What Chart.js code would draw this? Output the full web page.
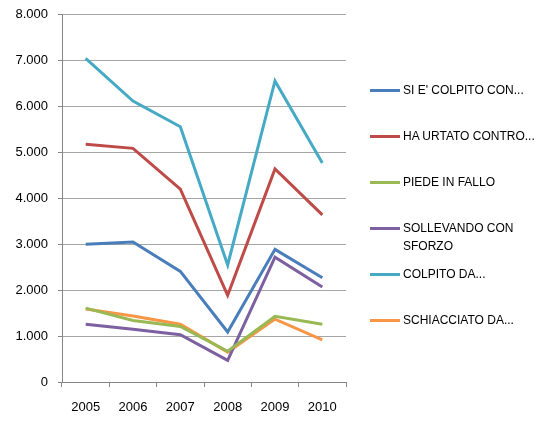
<!DOCTYPE html>
<html><head><meta charset="utf-8">
<script src="https://cdn.jsdelivr.net/npm/chart.js@4"></script>
<style>
html,body{margin:0;padding:0;background:#fff;overflow:hidden;}
#wrap{position:relative;width:558px;height:425px;overflow:hidden;}
#c{position:absolute;left:0;top:-3px;}
#legend{position:absolute;left:370px;top:0;font-family:"Liberation Sans",Arial,sans-serif;font-size:12px;color:#000;}
.item{position:absolute;left:0;width:190px;}
.sw{position:absolute;left:0;width:30px;height:3px;}
.tx{position:absolute;left:33px;line-height:18px;white-space:nowrap;}
</style>
</head><body>
<div id="wrap"><canvas id="c" width="558" height="429"></canvas><div id="legend"></div></div>
<script>
const categories = ['2005','2006','2007','2008','2009','2010'];
const seriesNames = ["SI E' COLPITO CON...", "HA URTATO CONTRO...", "PIEDE IN FALLO", "SOLLEVANDO CON\nSFORZO", "COLPITO DA...", "SCHIACCIATO DA..."];
const siColpito   = [3000, 3050, 2410, 1090, 2890, 2270];
const haUrtato    = [5180, 5090, 4200, 1890, 4640, 3640];
const piedeFallo  = [1610, 1340, 1210, 670, 1430, 1260];
const sollevando  = [1260, 1150, 1030, 470, 2720, 2070];
const colpitoDa   = [7050, 6120, 5560, 2550, 6560, 4770];
const schiacciato = [1590, 1440, 1260, 650, 1370, 920];
const seriesColors = ['#4A7EBB', '#BE4B48', '#98B954', '#7D60A0', '#46AAC5', '#F79646'];
const yTicks = [0, 1000, 2000, 3000, 4000, 5000, 6000, 7000, 8000];

const allSeries = [siColpito, haUrtato, piedeFallo, sollevando, colpitoDa, schiacciato];
const font = {family: '"Liberation Sans", Arial, sans-serif', size: 13};

new Chart(document.getElementById('c'), {
  type: 'line',
  data: {
    labels: categories,
    datasets: allSeries.map((d, i) => ({
      label: seriesNames[i].replace('\n', ' '),
      data: d,
      borderColor: seriesColors[i],
      backgroundColor: seriesColors[i],
      borderWidth: 3,
      pointRadius: 0,
      tension: 0,
      fill: false
    }))
  },
  options: {
    responsive: false,
    animation: false,
    layout: {padding: {top: 11, right: 212, left: 0, bottom: 0}},
    plugins: {legend: {display: false}, tooltip: {enabled: false}},
    scales: {
      x: {
        offset: true,
        grid: {offset: true, drawOnChartArea: false, tickLength: 5, color: '#868686', tickColor: '#868686'},
        border: {color: '#868686', width: 1},
        ticks: {color: '#000', font: font, padding: 13, maxRotation: 0},
        afterFit: s => { s.height = 44; }
      },
      y: {
        min: 0, max: 8000,
        afterBuildTicks: s => { s.ticks = yTicks.map(v => ({value: v})); },
        grid: {color: '#A6A6A6', tickLength: 4, tickColor: '#868686', lineWidth: 1},
        border: {color: '#868686', width: 1},
        ticks: {color: '#000', font: font, padding: 10,
          callback: v => v.toLocaleString('de-DE')},
        afterFit: s => { s.width = 62; }
      }
    }
  }
});

const leg = document.getElementById('legend');
const rowY = [90, 136, 182, 228, 274, 320];
seriesNames.forEach((n, i) => {
  const it = document.createElement('div');
  it.className = 'item';
  it.style.top = (rowY[i] - 1) + 'px';
  const sw = document.createElement('div');
  sw.className = 'sw';
  sw.style.background = seriesColors[i];
  it.appendChild(sw);
  const tx = document.createElement('div');
  tx.className = 'tx';
  tx.style.top = '-8px';
  tx.innerHTML = n.split('\n').join('<br>');
  it.appendChild(tx);
  leg.appendChild(it);
});
</script>
</body></html>
